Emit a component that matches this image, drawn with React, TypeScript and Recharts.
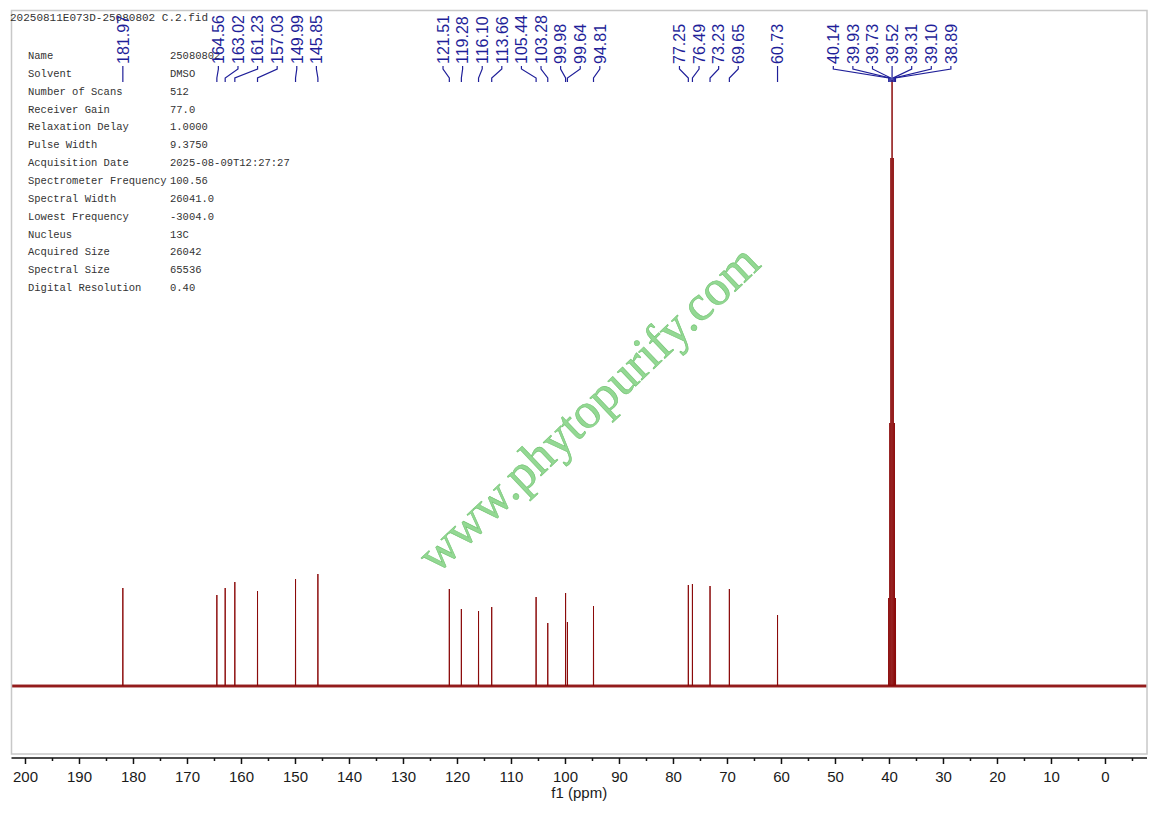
import React from 'react';
import { LineChart, Line, XAxis, YAxis } from 'recharts';

const W = 1158;
const H = 813;

// visible window: ppm (axis reversed, high ppm on the left) and intensity (baseline = 0)
const ppmRange = [-7.69, 202.59];
const intensityRange = [-72, 676];

const fileName = '20250811E073D-25080802 C.2.fid';
const watermark = 'www.phytopurify.com';

// picked peaks, high ppm first
const peakPpm = [
  181.97, 164.56, 163.02, 161.23, 157.03, 149.99, 145.85,
  121.51, 119.28, 116.1, 113.66, 105.44, 103.28, 99.98, 99.64, 94.81,
  77.25, 76.49, 73.23, 69.65, 60.73,
  40.14, 39.93, 39.73, 39.52, 39.31, 39.1, 38.89,
];
const peakHeight = [
  98, 91, 98, 104, 95, 107, 112,
  97, 77, 75, 79, 89, 63, 93, 64, 80,
  101, 102, 100, 97, 71,
  88, 263, 528, 606, 528, 263, 88,
];

const axisTicks = [
  200, 195, 190, 185, 180, 175, 170, 165, 160, 155, 150, 145, 140, 135, 130, 125, 120, 115, 110, 105,
  100, 95, 90, 85, 80, 75, 70, 65, 60, 55, 50, 45, 40, 35, 30, 25, 20, 15, 10, 5, 0, -5,
];

const infoKeys = [
  'Name', 'Solvent', 'Number of Scans', 'Receiver Gain', 'Relaxation Delay', 'Pulse Width',
  'Acquisition Date', 'Spectrometer Frequency', 'Spectral Width', 'Lowest Frequency', 'Nucleus',
  'Acquired Size', 'Spectral Size', 'Digital Resolution',
];
const infoValues = [
  '25080802', 'DMSO', '512', '77.0', '1.0000', '9.3750',
  '2025-08-09T12:27:27', '100.56', '26041.0', '-3004.0', '13C',
  '26042', '65536', '0.40',
];

const margin = { top: 10, right: 11, bottom: 15, left: 11.5 };
const plotLeft = margin.left;
const plotRight = W - margin.right;
const HALF_WIDTH = 0.02; // ppm

const SPEC_COLOR = '#8b0a0a';
const LABEL_COLOR = '#1f1f99';
const LABEL_STEP = 19.6;
const GROUP_GAP = 46;

// same linear mapping the reversed x axis uses, for the peak label overlay
const xOf = (ppm: number) =>
  plotLeft + ((ppmRange[1] - ppm) / (ppmRange[1] - ppmRange[0])) * (plotRight - plotLeft);

const spectrum = [{ ppm: ppmRange[1], y: 0 }];
peakPpm.forEach((p, i) => {
  spectrum.push({ ppm: p + HALF_WIDTH, y: 0 });
  spectrum.push({ ppm: p, y: peakHeight[i] });
  spectrum.push({ ppm: p - HALF_WIDTH, y: 0 });
});
spectrum.push({ ppm: ppmRange[0], y: 0 });

const baseline = [
  { ppm: ppmRange[1], y: 0 },
  { ppm: ppmRange[0], y: 0 },
];

// spread crowded labels evenly around the middle of each cluster
function layoutLabels(xs: number[]) {
  const out: number[] = new Array(xs.length);
  let start = 0;
  for (let i = 1; i <= xs.length; i++) {
    if (i === xs.length || xs[i] - xs[i - 1] > GROUP_GAP) {
      const n = i - start;
      const mid = (xs[start] + xs[i - 1]) / 2;
      for (let k = 0; k < n; k++) out[start + k] = mid + (k - (n - 1) / 2) * LABEL_STEP;
      start = i;
    }
  }
  return out;
}

function AxisTick(props: any) {
  const { x, y, payload } = props;
  const major = payload.value % 10 === 0;
  return (
    <g>
      <line x1={x} x2={x} y1={y} y2={y + (major ? 6 : 3)} stroke="#111" strokeWidth={1.5} />
      {major && (
        <text
          x={x}
          y={y + 24}
          textAnchor="middle"
          fontSize={15}
          fontFamily="'Liberation Sans', Arial, sans-serif"
          fill="#1a1a1a"
        >
          {payload.value}
        </text>
      )}
    </g>
  );
}

function Overlay() {
  const peakX = peakPpm.map(xOf);
  const labelX = layoutLabels(peakX);
  const mono = "'Liberation Mono', 'Courier New', monospace";

  return (
    <svg
      width={W}
      height={H}
      style={{ position: 'absolute', left: 0, top: 0, pointerEvents: 'none' }}
    >
      <rect
        x={plotLeft}
        y={10.5}
        width={plotRight - plotLeft}
        height={743.5}
        fill="none"
        stroke="#c8c8c8"
        strokeWidth={1.5}
      />

      <text
        transform="translate(588,408) rotate(-43.5)"
        textAnchor="middle"
        dominantBaseline="central"
        fontSize={50}
        fontFamily="'Liberation Serif', 'Times New Roman', serif"
        fill="#93d893"
        stroke="#74c474"
        strokeWidth={0.6}
      >
        {watermark}
      </text>

      <text x={10} y={21} fontSize={11} fontFamily={mono} fill="#333">
        {fileName}
      </text>
      {infoKeys.map((k, i) => (
        <g key={k}>
          <text x={28} y={59 + i * 17.85} fontSize={10.5} fontFamily={mono} fill="#333">
            {k}
          </text>
          <text x={170} y={59 + i * 17.85} fontSize={10.5} fontFamily={mono} fill="#333">
            {infoValues[i]}
          </text>
        </g>
      ))}

      {peakPpm.map((p, i) => {
        const lx = labelX[i];
        const px = peakX[i];
        return (
          <g key={p}>
            <text
              transform={`translate(${lx},64) rotate(-90)`}
              dy="0.36em"
              fontSize={16}
              fontFamily="'Liberation Sans', Arial, sans-serif"
              fill={LABEL_COLOR}
            >
              {p.toFixed(2)}
            </text>
            <path
              d={`M${lx} 66 L${lx} 69 L${px} 78 L${px} 82`}
              fill="none"
              stroke={LABEL_COLOR}
              strokeWidth={1.2}
            />
          </g>
        );
      })}

      <text
        x={(plotLeft + plotRight) / 2}
        y={798}
        textAnchor="middle"
        fontSize={15}
        fontFamily="'Liberation Sans', Arial, sans-serif"
        fill="#1a1a1a"
      >
        f1 (ppm)
      </text>
    </svg>
  );
}

export default function App() {
  return (
    <div style={{ position: 'absolute', left: 0, top: 0, width: W, height: H, background: '#fff' }}>
      <LineChart width={W} height={H} margin={margin}>
        <XAxis
          dataKey="ppm"
          type="number"
          domain={ppmRange}
          reversed
          allowDataOverflow
          ticks={axisTicks}
          interval={0}
          tickSize={0}
          tickMargin={0}
          tickLine={false}
          height={40}
          axisLine={{ stroke: '#111', strokeWidth: 1.5 }}
          tick={(p: any) => <AxisTick {...p} />}
        />
        <YAxis type="number" domain={intensityRange} allowDataOverflow hide />
        <Line
          data={baseline}
          dataKey="y"
          type="linear"
          stroke={SPEC_COLOR}
          strokeWidth={3}
          strokeOpacity={0.85}
          dot={false}
          activeDot={false}
          isAnimationActive={false}
        />
        <Line
          data={spectrum}
          dataKey="y"
          type="linear"
          stroke={SPEC_COLOR}
          strokeWidth={1}
          dot={false}
          activeDot={false}
          isAnimationActive={false}
        />
      </LineChart>
      <Overlay />
    </div>
  );
}
